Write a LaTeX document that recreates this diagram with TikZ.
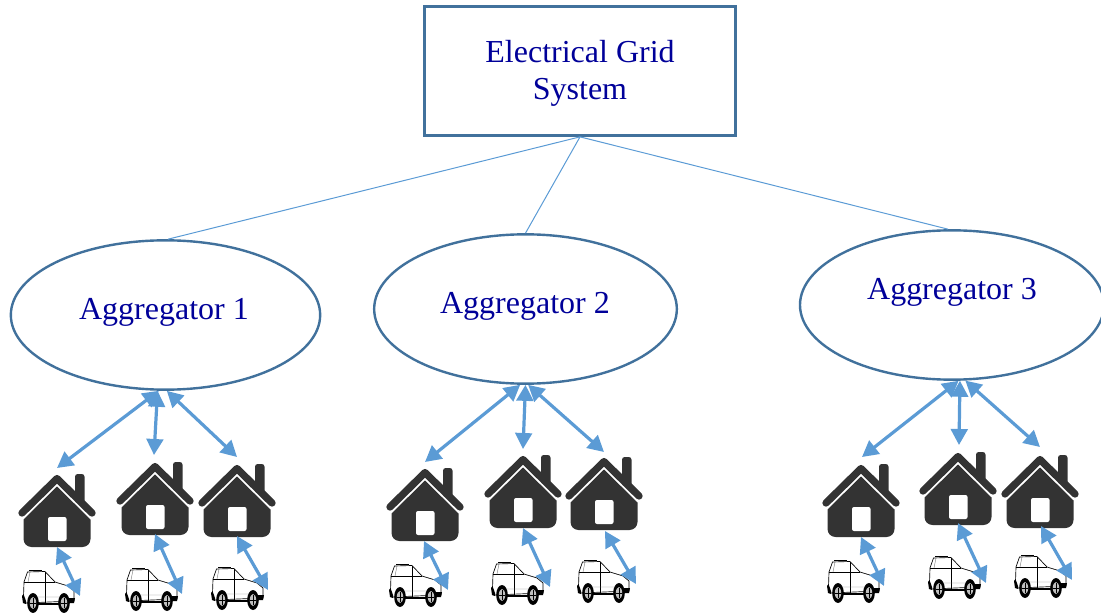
\documentclass[tikz,border=0pt]{standalone}
\usepackage{fontspec}
\setmainfont{Liberation Serif}
\usetikzlibrary{shapes.geometric}
\usetikzlibrary{arrows.meta}
\definecolor{gridline}{RGB}{65,113,156}
\definecolor{linkblue}{RGB}{91,155,213}
\definecolor{labelblue}{RGB}{0,0,153}
\definecolor{housegray}{RGB}{51,51,51}
\tikzset{
  gridbox/.style={draw=gridline,line width=1.8pt,minimum width=233pt,minimum height=97pt,inner sep=0pt},
  aggregator/.style={ellipse,draw=gridline,line width=1.8pt,minimum height=112pt,inner sep=0pt},
  gridlabel/.style={text=labelblue,font=\fontsize{24}{28}\selectfont,align=center,inner sep=0pt},
  feeder/.style={draw=linkblue,line width=0.75pt},
  link/.style={draw=linkblue,line width=2.4pt,{Triangle[length=12pt,width=12.5pt]}-{Triangle[length=12pt,width=12.5pt]}},
  pics/house/.style={code={
    %Shape: Chimney
    \fill [housegray,rounded corners=2pt] (18,28) -- (18,-1) -- (27.5,-1) -- (27.5,28) -- cycle ;
    %Shape: Roof
    \draw [housegray,line width=5.5pt,line cap=round,line join=round] (-35,38) -- (0,3.6) -- (35,38) ;
    %Shape: Body
    \fill [housegray] (-33.5,44.5) -- (0,11.5) -- (33.5,44.5) [rounded corners=6pt] -- (33.5,72) -- (-33.5,72) [sharp corners] -- cycle ;
    %Shape: Door
    \fill [white,rounded corners=1.5pt] (-9,42) rectangle (9.5,66) ;
  }},
  pics/car/.style={code={
    %Shape: Car body
    \draw [line width=0.5pt,fill=white] (1.5,27) -- (2,12) -- (5.5,2) -- (23,1.5) -- (33,12) -- (46,16) -- (52,21) -- (52,31) -- (3,33) -- cycle ;
    \draw [line width=1pt] (7,0.8) -- (20,0.8) ;
    \fill [black] (0,26) -- (1.5,24) -- (4,31) -- (4,34) -- (1,33) -- cycle ;
    \fill [black] (47,28) -- (53,28) -- (52,33) -- (47,33) -- cycle ;
    \draw [line width=0.7pt] (2,12) -- (33,12) ;
    \draw [line width=0.5pt] (23.7,2) -- (23.7,34) ;
    \draw [line width=0.9pt] (16,34) -- (37,34) ;
    \draw [line width=0.35pt,gray] (8,2) -- (6,12) (16,27) -- (37,27) ;
    %Shape: Wheels
    \foreach \wx in {11,42} {
      \fill [black] (\wx,33) ellipse [x radius=5.8,y radius=10] ;
      \fill [lightgray] (\wx,33) ellipse [x radius=3.2,y radius=6] ;
      \draw [black,line width=0.4pt] (\wx,28) -- (\wx,38) (\wx-3,33) -- (\wx+3,33) ;
    }
  }},
}
\begin{document}
\begin{tikzpicture}[x=0.75pt,y=0.75pt,yscale=-1,xscale=1]
\useasboundingbox (0,0) rectangle (1101,613);
\clip (0,0) rectangle (1101,613);

% Grid box and aggregators
\node [gridbox] (grid) at (580,71) {};
\node [aggregator,minimum width=232pt] (agg1) at (165.5,315) {};
\node [aggregator,minimum width=227pt] (agg2) at (525.5,309) {};
\node [aggregator,minimum width=228pt] (agg3) at (952,305) {};

% Text Node
\node [gridlabel] (gridtext) at (580,73.5) {Electrical Grid\\System};
\node [gridlabel] (agg1text) at (164,312) {Aggregator 1};
\node [gridlabel] (agg2text) at (525,306) {Aggregator 2};
\node [gridlabel] (agg3text) at (952,292) {Aggregator 3};

% Lines from the grid box
\draw [feeder] (grid.south) -- (agg1.88) ;
\draw [feeder] (grid.south) -- (agg2.north) ;
\draw [feeder] (grid.south) -- (agg3.93) ;

% Houses and cars
\foreach \hpos/\cpos in {{57,475}/{22,570},{155,463}/{125,568},{237,465}/{211,567},
  {425,469}/{389,564},{523,456}/{491,562},{604,458}/{577,560},
  {861,465}/{827,560},{958,453}/{928,556},{1040,456}/{1014,555}} {
  \pic [transform shape] at (\hpos) {house};
  \pic [transform shape] at (\cpos) {car};
}

% Links: name/aggregator anchor/roof end/house end/car end
\foreach \n/\anc/\tend/\bend/\cend in {
  h1/agg1.265/{57,468}/{57,547}/{80,596},
  h2/agg1.264/{154,455}/{155,534}/{182,594},
  h3/agg1.271/{237,457}/{237,536}/{268,590},
  h4/agg2.266/{425,462}/{424,541}/{448,590},
  h5/agg2.270/{523,449}/{523,528}/{550,587},
  h6/agg2.272/{604,452}/{605,531}/{636,584},
  h7/agg3.275/{862,457}/{861,537}/{884,586},
  h8/agg3.276/{959,445}/{958,523}/{986,583},
  h9/agg3.280/{1040,447}/{1041,526}/{1072,580}} {
  \coordinate (\n top) at (\tend);
  \coordinate (\n base) at (\bend);
  \coordinate (\n car) at (\cend);
  \draw [link] (\anc) -- (\n top) ;
  \draw [link] (\n base) -- (\n car) ;
}

\end{tikzpicture}
\end{document}
